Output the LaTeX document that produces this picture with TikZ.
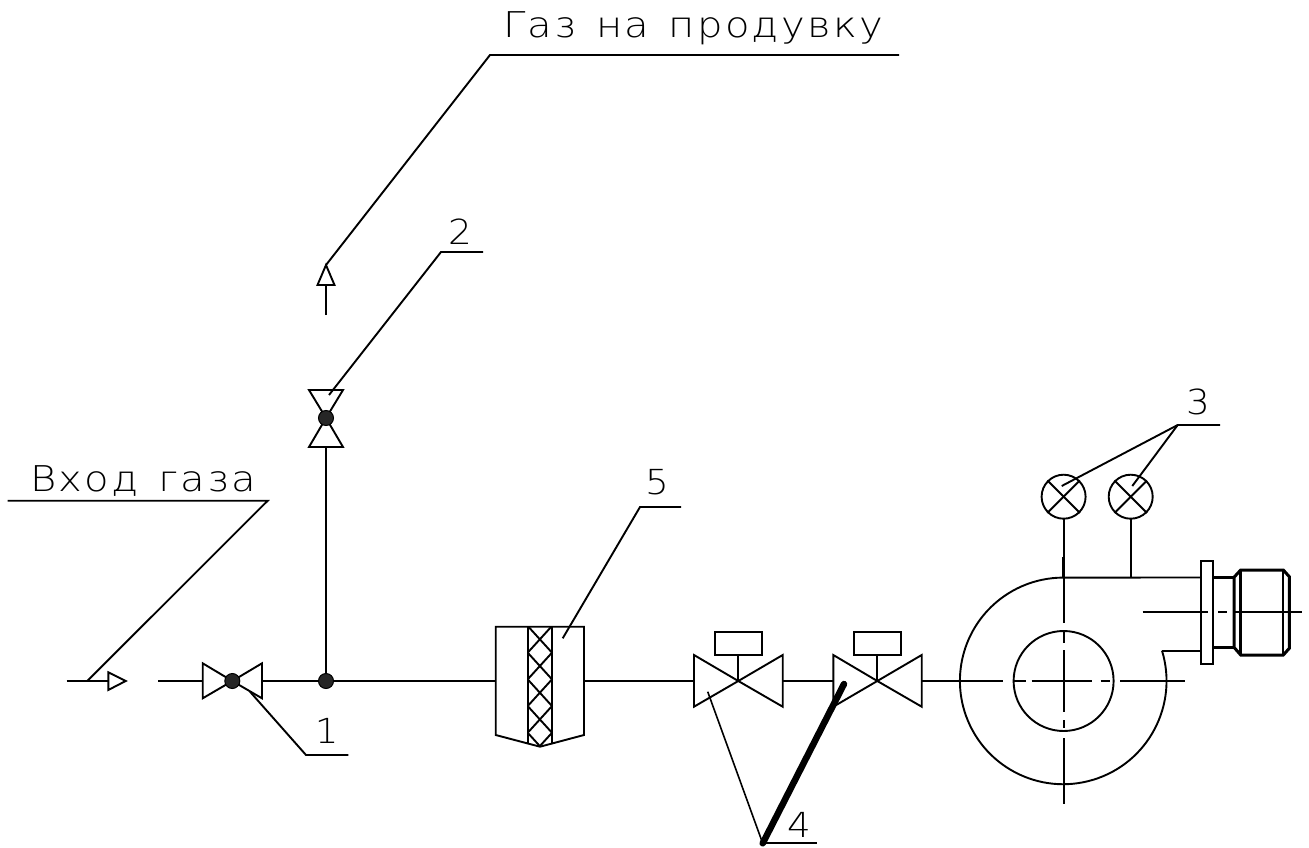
\documentclass[tikz,border=0pt]{standalone}
\usepackage{fontspec}
\setmainfont{DejaVu Sans}[UprightFont={* ExtraLight},FakeStretch=1.08,LetterSpace=5]
\newfontfamily\widefont{DejaVu Sans}[UprightFont={* ExtraLight},FakeStretch=1.13,LetterSpace=6.5,WordSpace=1.3]
\begin{document}
\begin{tikzpicture}[x=1pt,y=-1pt,line join=miter,
  ln/.style={draw=black,line width=1.9pt},
  thin ln/.style={draw=black,line width=1.6pt},
  heavy/.style={draw=black,line width=3pt},
  lbl/.style={font=\widefont\fontsize{35.5}{36}\selectfont,inner sep=0pt,anchor=base west,text=black},
  num/.style={font=\fontsize{34.5}{35}\selectfont,inner sep=0pt,anchor=center,text=black},
  ball/.style={circle,fill=black!85,draw=black,line width=1pt,minimum size=15pt,inner sep=0pt},
  gauge/.style={circle,ln,fill=white,minimum size=44pt,inner sep=0pt}]
\useasboundingbox (0,0) rectangle (1309,848);
\fill[white] (0,0) rectangle (1309,848);

% --- key points of the pipeline
\coordinate (inS) at (66.7,681);
\coordinate (inT) at (108.3,681);
\coordinate (pipeS) at (158.3,681);
\coordinate (v1c) at (232.3,681);
\coordinate (v1l) at (202.7,681);
\coordinate (v1r) at (262,681);
\coordinate (j) at (326,681);
\coordinate (fL) at (495.7,681);
\coordinate (fR) at (584,681);
\coordinate (v3l) at (694,681);
\coordinate (v3c) at (738.3,681);
\coordinate (v3r) at (782.7,681);
\coordinate (v4l) at (833.3,681);
\coordinate (v4c) at (877.3,681);
\coordinate (v4r) at (921.7,681);
\coordinate (fan) at (1063.6,681);
\coordinate (v2c) at (326,418);
\coordinate (v2b) at (326,447);
\coordinate (upS) at (326,315);
\coordinate (upT) at (326,285);

% --- pipes
\draw[ln] (inS) -- (inT);
\draw[ln] (pipeS) -- (v1l);
\draw[ln] (v1r) -- (fL);
\draw[ln] (fR) -- (v3l);
\draw[ln] (v3r) -- (v4l);
\draw[ln] (j) -- (v2b);
\draw[ln] (upS) -- (upT);

% --- arrows
\draw[ln] (108.3,672.3) -- (125.7,681) -- (108.3,690) -- cycle;
\draw[ln] (317.5,285) -- (326,265) -- (334.5,285) -- cycle;

% --- hand valves
\draw[ln] (v1c) -- (202.7,663.3) -- (202.7,698.3) -- cycle;
\draw[ln] (v1c) -- (262,663.3) -- (262,698.3) -- cycle;
\node[ball] (b1) at (v1c) {};
\node[ball] (bj) at (j) {};
\draw[ln] (v2c) -- (309,390) -- (343,390) -- cycle;
\draw[ln] (v2c) -- (309,447) -- (343,447) -- cycle;
\node[ball] (b2) at (v2c) {};

% --- solenoid valves
\draw[ln] (v3c) -- (694,655) -- (694,706.7) -- cycle;
\draw[ln] (v3c) -- (782.7,655) -- (782.7,706.7) -- cycle;
\draw[ln] (v3c) -- (738.3,655.3);
\draw[ln] (715,632.3) rectangle (761.7,655.3);
\draw[ln] (v4c) -- (833.3,655) -- (833.3,706.7) -- cycle;
\draw[ln] (v4c) -- (921.7,655) -- (921.7,706.7) -- cycle;
\draw[ln] (v4c) -- (877.3,655.3);
\draw[ln] (854,632.3) rectangle (901,655.3);

% --- filter
\begin{scope}
\clip (527.7,626.7) -- (552,626.7) -- (552,743.5) -- (540,746.7) -- (527.7,743.5) -- cycle;
\foreach \k in {-1,...,4}{
  \draw[ln] (527.7,{625.95+26.7*\k}) -- (552,{652.65+26.7*\k});
  \draw[ln] (552,{625.95+26.7*\k}) -- (527.7,{652.65+26.7*\k});
}
\end{scope}
\draw[ln] (495.7,626.7) -- (584,626.7) -- (584,735) -- (540,746.7) -- (495.7,735) -- cycle;
\draw[ln,line width=2.3pt] (527.7,626.7) -- (527.7,743.5);
\draw[ln,line width=2.3pt] (552,626.7) -- (552,743.5);

% --- fan body
\draw[ln] (1162,650.7) arc[start angle=-17,end angle=270,radius=103.3] -- (1200.7,577.5);
\draw[ln] (1162,650.7) -- (1200.7,650.7);
\draw[ln] (fan) circle[radius=50];
\draw[ln] (1130.7,519) -- (1130.7,577.5);
\draw[ln] (1063.6,519) -- (1063.6,622.7);
\draw[heavy] (1063.6,557) -- (1063.6,577.5);
% centre lines
\foreach \a/\b in {1013.3/1026,1031.7/1091.7,1100.7/1110,1120/1185}
  \draw[ln] (\a,681) -- (\b,681);
\draw[ln] (v4r) -- (1003.3,681);
\foreach \a/\b in {631.7/643.3,650/711.7,720/728.3,738.3/804}
  \draw[ln] (1063.6,\a) -- (1063.6,\b);
% flange and motor
\draw[ln] (1200.7,561) rectangle (1212.7,664);
\draw[heavy] (1212.7,577.3) -- (1234,577.3);
\draw[heavy] (1212.7,647.3) -- (1234,647.3);
\draw[heavy] (1234,577.3) -- (1240.7,570) -- (1283.3,570) -- (1289.3,576.7) -- (1289.3,648.3) -- (1283.3,655) -- (1240.7,655) -- (1234,647.3) -- cycle;
\draw[heavy] (1240.7,570) -- (1240.7,655);
\draw[ln] (1283.3,570) -- (1283.3,655);
\foreach \a/\b in {1142.7/1208,1218/1226.7,1235/1301.7}
  \draw[ln] (\a,612.3) -- (\b,612.3);

% --- gauges
\node[gauge] (g1) at (1063.6,496.7) {};
\node[gauge] (g2) at (1130.7,496.7) {};
\foreach \g in {g1,g2}{
  \draw[ln] (\g.45) -- (\g.225);
  \draw[ln] (\g.135) -- (\g.315);
}

% --- leaders
\coordinate (l3) at (1177.7,425);
\coordinate (l3e) at (1220,425);
\draw[ln] (l3e) -- (l3) -- (1061.7,486);
\draw[ln] (l3) -- (1132.3,486);
\coordinate (l4) at (762.7,843.3);
\coordinate (l4e) at (816.7,843.3);
\draw[ln] (l4e) -- (l4);
\draw[thin ln] (l4) -- (707.7,691.7);
\draw[draw=black,line width=6.5pt,line cap=round] (l4) -- (844,684);
\draw[ln] (681,507) -- (640,507) -- (562.7,638.3);
\draw[ln] (483,252) -- (441,252) -- (329,395);
\draw[ln] (348.3,755) -- (306,755) -- (250,691.7);
\draw[ln] (7.7,500.7) -- (267.7,500.7) -- (87.3,681);
\draw[ln] (899,55) -- (490,55) -- (326,265);

% --- labels
\node[lbl] (t1) at (503,38) {Газ на продувку};
\node[lbl] (t2) at (30,491) {Вход газа};
\node[num] (n1) at (326.7,731) {1};
\node[num] (n2) at (460,232) {2};
\node[num] (n3) at (1198,401.7) {3};
\node[num] (n4) at (799,825) {4};
\node[num] (n5) at (657,482) {5};
\end{tikzpicture}
\end{document}
